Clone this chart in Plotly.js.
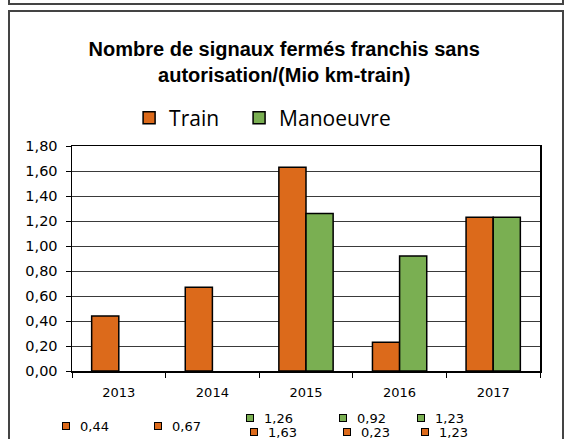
<!DOCTYPE html>
<html>
<head>
<meta charset="utf-8">
<script src="https://cdn.plot.ly/plotly-3.0.1.min.js"></script>
<style>
  body { margin: 0; background: #fff; }
  #wrap { position: relative; width: 565px; height: 439px; overflow: hidden; }
  #plot { position: absolute; left: 0; top: 0; }
  .frame { position: absolute; border: 2px solid #444; pointer-events: none; }
</style>
</head>
<body>
<div id="wrap">
  <div id="plot"></div>
  <!-- box of the block above the chart, only its bottom edge is visible -->
  <div class="frame" style="left:8px; top:-20px; width:552px; height:21px;"></div>
  <!-- chart frame -->
  <div class="frame" style="left:8px; top:10px; width:552px; height:440px;"></div>
</div>
<script>
// Data
const years = ['2013', '2014', '2015', '2016', '2017'];
const train = [0.44, 0.67, 1.63, 0.23, 1.23];
const manoeuvre = [null, null, 1.26, 0.92, 1.23];
const yTicks = [0, 0.2, 0.4, 0.6, 0.8, 1.0, 1.2, 1.4, 1.6, 1.8];

// Colours
const orange = '#dc6a1b';
const green = '#7aaf52';

// Horizontal offset of the value labels under each year (pixels)
const labelShift = [-53, -54, -54, -55, -70];

// Format a number the French way
function fr(v) {
    return v.toFixed(2).replace('.', ',');
}

// One legend per series so they can be spaced like the original
const traces = [
    {
        type: 'bar', name: 'Train', x: years, y: train, legend: 'legend',
        marker: { color: orange, line: { color: '#000', width: 1.5 } }
    },
    {
        type: 'bar', name: 'Manoeuvre', x: years, y: manoeuvre, legend: 'legend2',
        marker: { color: green, line: { color: '#000', width: 1.5 } }
    }
];

// Value labels under the axis (like the excel data table)
// x is the category index, so it does not stretch the axis
const annotations = [];
function addLabel(i, value, color, shift, yshift) {
    // Small square
    annotations.push({
        xref: 'x', yref: 'paper', x: i, y: 0, xshift: shift, yshift: yshift,
        xanchor: 'center', yanchor: 'middle',
        text: '&nbsp;', showarrow: false, width: 6, height: 6, borderpad: 0,
        bgcolor: color, bordercolor: '#000', borderwidth: 1,
        font: { size: 4 }
    });
    // Value
    annotations.push({
        xref: 'x', yref: 'paper', x: i, y: 0, xshift: shift + 12, yshift: yshift,
        xanchor: 'left', yanchor: 'middle', text: fr(value), showarrow: false,
        font: { family: 'DejaVu Sans', size: 13, color: '#000' }
    });
}
years.forEach((yr, i) => {
    if (manoeuvre[i] === null) {
        addLabel(i, train[i], orange, labelShift[i], -55);
    } else {
        addLabel(i, manoeuvre[i], green, labelShift[i] - 2, -47);
        addLabel(i, train[i], orange, labelShift[i] + 2, -61);
    }
});

const legendFont = { family: 'Open Sans', size: 21, color: '#000' };

const layout = {
    width: 565, height: 439,
    margin: { l: 72, r: 25, t: 146, b: 68 },
    paper_bgcolor: '#fff', plot_bgcolor: '#fff',
    separators: ', ',
    title: {
        text: 'Nombre de signaux fermés franchis sans<br>autorisation/(Mio km-train)',
        font: { family: 'Liberation Sans', size: 20, color: '#000', weight: 'bold' },
        xref: 'container', x: 0.503, xanchor: 'center',
        yref: 'container', y: 1 - 56 / 439, yanchor: 'top'
    },
    barmode: 'group', bargap: 0.42, bargroupgap: 0,
    showlegend: true,
    legend: {
        orientation: 'h', xref: 'paper', x: 0.122, xanchor: 'left',
        y: 1.124, yanchor: 'middle', font: legendFont
    },
    legend2: {
        orientation: 'h', xref: 'paper', x: 0.357, xanchor: 'left',
        y: 1.124, yanchor: 'middle', font: legendFont
    },
    xaxis: {
        type: 'category', range: [-0.5, years.length - 0.5],
        tickson: 'boundaries', ticks: 'outside', ticklen: 5, ticklabelstandoff: 9,
        tickcolor: '#000', showline: true, linecolor: '#000', linewidth: 1.5, mirror: true,
        tickfont: { family: 'DejaVu Sans', size: 13, color: '#000' }
    },
    yaxis: {
        range: [0, 1.8], tickvals: yTicks, tickformat: '.2f',
        ticks: 'outside', ticklen: 5, tickcolor: '#000', ticklabelstandoff: 5,
        showline: true, linecolor: '#000', linewidth: 1.5, mirror: true,
        showgrid: true, gridcolor: '#3a3a3a', gridwidth: 1, zeroline: false,
        tickfont: { family: 'DejaVu Sans', size: 14.5, color: '#000' }
    },
    annotations: annotations
};

Plotly.newPlot('plot', traces, layout, { displayModeBar: false, staticPlot: true });
</script>
</body>
</html>
